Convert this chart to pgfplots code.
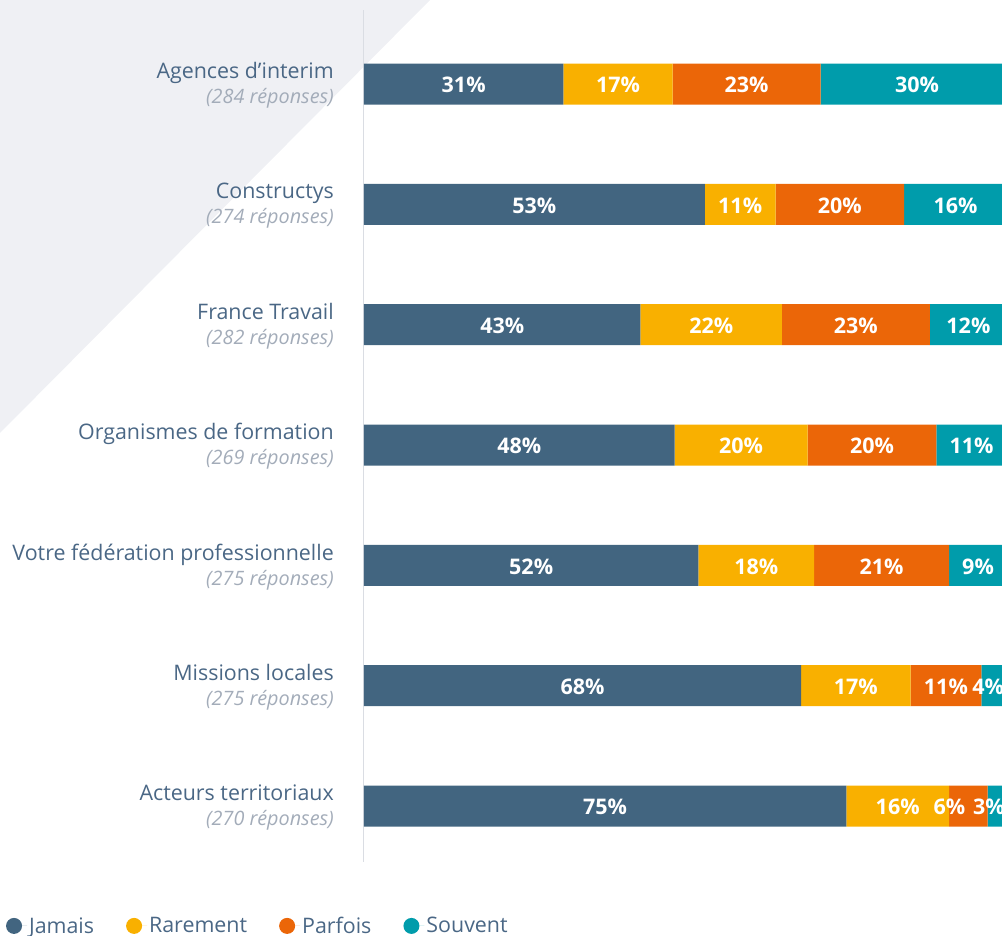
\documentclass[border=0pt]{standalone}
\usepackage{fontspec}
\setmainfont{Open Sans}
\usepackage{pgfplots}
\usepackage{pgfplotstable}
\pgfplotsset{compat=1.18}

\definecolor{cJamais}{HTML}{426580}
\definecolor{cRarement}{HTML}{F9B000}
\definecolor{cParfois}{HTML}{EB6608}
\definecolor{cSouvent}{HTML}{009CAB}
\definecolor{txt}{HTML}{4A6785}
\definecolor{sub}{HTML}{A3ACB9}
\definecolor{bgtri}{HTML}{EFF0F4}
\definecolor{axline}{HTML}{DADDE3}

% y = category index (0 = top), v = segment width, lbl = printed value,
% dx = label nudge (pt) where labels would collide
\pgfplotstableread{
y v lbl dx
0 31 31 0
1 53 53 0
2 43 43 0
3 48.3 48 0
4 52 52 0
5 68 68 0
6 75 75 0
}\jamais
\pgfplotstableread{
y v lbl dx
0 17 17 0
1 11 11 0
2 22 22 0
3 20.7 20 0
4 18 18 0
5 17 17 0
6 16 16 0
}\rarement
\pgfplotstableread{
y v lbl dx
0 23 23 0
1 20 20 0
2 23 23 0
3 20 20 0
4 21 21 0
5 11 11 0
6 6 6 -19
}\parfois
\pgfplotstableread{
y v lbl dx
0 30 30 0
1 16 16 0
2 12 12 0
3 11 11 0
4 9 9 0
5 4 4 -6
6 3 3 -8.5
}\souvent

\newcommand{\cat}[2]{#1\\{\fontsize{19.8}{25}\selectfont\itshape\color{sub}(#2 réponses)}}

\begin{document}
\begin{tikzpicture}
\path[use as bounding box] (0,0) rectangle (1002pt,-936pt);
\fill[bgtri] (0,0) -- (430pt,0) -- (0,-433pt) -- cycle;
\begin{axis}[
  at={(364pt,-862pt)}, anchor=south west,
  scale only axis, width=643pt, height=852pt,
  xbar stacked, bar width=41pt, clip=false,
  xmin=0, xmax=100, ymin=-0.615, ymax=6.465, y dir=reverse,
  axis x line=none, axis y line*=left,
  y axis line style={draw=axline, line width=1pt},
  major tick length=0pt,
  ytick={0,...,6},
  yticklabels={
    {\cat{Agences d’interim}{284}},
    {\cat{Constructys}{274}},
    {\cat{France Travail}{282}},
    {\cat{Organismes de formation}{269}},
    {\cat{Votre fédération professionnelle}{275}},
    {\cat{Missions locales}{275}},
    {\cat{Acteurs territoriaux}{270}}},
  yticklabel style={align=right, inner sep=0pt, xshift=-30pt, yshift=-1.5pt,
    font=\fontsize{21.4}{25}\selectfont, text=txt},
  point meta=explicit symbolic,
  visualization depends on={\thisrow{dx} \as \dx},
  nodes near coords={\pgfplotspointmeta\%},
  every node near coord/.append style={anchor=center, text=white, yshift=-1pt,
    xshift=\dx pt, font=\fontsize{21.5}{24}\selectfont\bfseries},
  legend columns=4,
  legend image code/.code={\fill[draw=none] (8pt,0pt) circle (8pt); \path (16pt,0pt) -- (21pt,0pt);},
  legend style={at={(-0.557,-0.075)}, anchor=west, draw=none, fill=none,
    inner sep=0pt, font=\fontsize{21.4}{25}\selectfont, text=txt,
    /tikz/every even column/.append style={column sep=30pt}},
  legend cell align=left,
]
\addplot[fill=cJamais, draw=none] table[x=v, y=y, meta=lbl] {\jamais};
\addplot[fill=cRarement, draw=none] table[x=v, y=y, meta=lbl] {\rarement};
\addplot[fill=cParfois, draw=none] table[x=v, y=y, meta=lbl] {\parfois};
\addplot[fill=cSouvent, draw=none] table[x=v, y=y, meta=lbl] {\souvent};
\legend{Jamais, Rarement, Parfois, Souvent}
\end{axis}
\end{tikzpicture}
\end{document}
